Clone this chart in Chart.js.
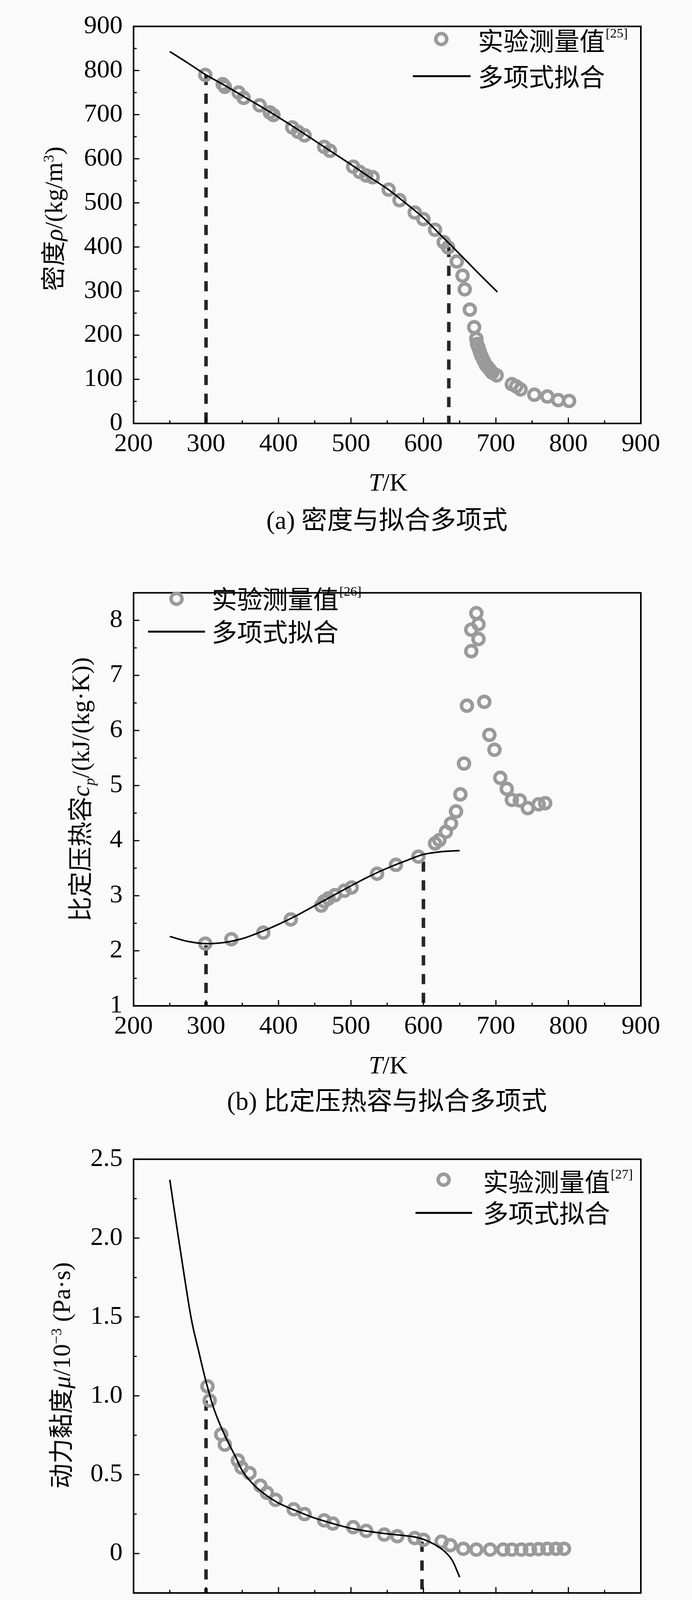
<!DOCTYPE html>
<html><head><meta charset="utf-8">
<script src="https://cdn.jsdelivr.net/npm/chart.js@4.4.1/dist/chart.umd.min.js"></script>
<style>
html,body{margin:0;padding:0;background:#fafafa;}
#page{position:relative;width:1772px;height:5882px;overflow:hidden;}
canvas{position:absolute;left:0;}
.t{position:absolute;white-space:nowrap;font-family:"Liberation Serif","Noto Sans CJK SC",serif;color:#000;line-height:1;}
.yt{transform:translate(-50%,-50%) rotate(-90deg);font-size:64px;}
.xt{transform:translate(-50%,-50%);font-size:64px;}
.cap{transform:translate(-50%,-50%);font-size:66px;}
sup,sub{font-size:0.6em;line-height:0;}
</style></head>
<body><div id="page">
<canvas id="ca" width="1772" height="1450" style="top:0px"></canvas>
<canvas id="cb" width="1772" height="1450" style="top:1450px"></canvas>
<canvas id="cc" width="1772" height="1450" style="top:2900px"></canvas>
<canvas id="cd" width="1772" height="1532" style="top:4350px"></canvas>

<div class="t yt" style="left:138px;top:560px">密度<i>ρ</i>/(kg/m<sup>3</sup>)</div>
<div class="t xt" style="left:994px;top:1235px"><i>T</i>/K</div>
<div class="t cap" style="left:991px;top:1332px">(a) 密度与拟合多项式</div>

<div class="t yt" style="left:207px;top:2021px">比定压热容<i>c<sub>p</sub></i>/(kJ/(kg·K))</div>
<div class="t xt" style="left:994px;top:2727px"><i>T</i>/K</div>
<div class="t cap" style="left:991px;top:2819px">(b) 比定压热容与拟合多项式</div>

<div class="t yt" style="left:158px;top:3521px">动力黏度<i>μ</i>/10<sup>−3</sup> (Pa·s)</div>
<div class="t xt" style="left:994px;top:4227px"><i>T</i>/K</div>
<div class="t cap" style="left:991px;top:4325px">(c) 动力黏度与拟合多项式</div>

<div class="t yt" style="left:115px;top:5040px">导热系数<i>λ</i>/(W(m·K))</div>
<div class="t xt" style="left:994px;top:5742px"><i>T</i>/K</div>
<div class="t cap" style="left:991px;top:5840px">(d) 导热系数与拟合多项式</div>
</div>
<script>
// ---------- data ----------
const seriesLabels = ['实验测量值', '多项式拟合'];
const refLabels = ['[25]', '[26]', '[27]', '[28]'];

// (a) density
const densityT   = [299,323,326,345,352,374,388,393,419,427,436,463,471,503,512,521,530,552,567,588,600,616,628,634,646,654,657,664,670,673,674,676,678,680,683,686,689,692,695,701,722,728,734,753,771,786,801];
const densityRho = [790,769,763,750,738,721,705,699,671,661,653,627,618,582,570,562,558,530,506,478,463,439,411,399,367,335,304,258,218,192,180,172,162,153,143,133,127,121,115,109,89,84,77,65,61,53,51];
const densityFitT   = [250,275,300,325,350,375,400,425,450,475,500,525,550,575,600,625,650,675,702];
const densityFitRho = [843,817,790,767,743,719,694,668,641,614,587,559,532,500,466,425,384,342,298];
const densityDashT   = [300,635];
const densityDashTop = [790,400];

// (b) specific heat
const cpT = [299,335,379,417,459,463,469,478,491,501,536,562,593,616,622,631,638,645,651,656,660,666,666,673,676,676,684,691,698,706,715,722,733,744,759,768];
const cpV = [2.13,2.21,2.33,2.57,2.82,2.90,2.95,3.01,3.09,3.15,3.40,3.56,3.71,3.95,4.01,4.16,4.31,4.53,4.84,5.40,6.45,7.44,7.83,8.13,7.93,7.66,6.52,5.92,5.65,5.14,4.94,4.74,4.73,4.59,4.66,4.68];
const cpFitT = [250,275,300,325,350,375,400,425,450,475,500,525,550,575,600,625,650];
const cpFitV = [2.26,2.17,2.13,2.15,2.22,2.34,2.48,2.64,2.82,3.00,3.18,3.35,3.50,3.63,3.75,3.80,3.82];
const cpDashT   = [300,600];
const cpDashTop = [2.10,3.62];

// (c) viscosity
const viscT = [302,305,321,326,344,349,360,375,384,396,421,436,463,475,503,521,546,564,588,600,625,637,655,673,692,710,722,735,747,759,771,783,794];
const viscV = [1.06,0.97,0.755,0.69,0.59,0.545,0.51,0.43,0.385,0.34,0.28,0.25,0.21,0.19,0.167,0.144,0.12,0.11,0.098,0.087,0.075,0.053,0.03,0.025,0.025,0.025,0.025,0.025,0.025,0.028,0.03,0.03,0.03];
const viscFitT = [250,260,270,280,290,300,310,320,330,340,350,365,380,400,425,450,475,500,525,550,575,590,600,610,620,630,640,650];
const viscFitV = [2.37,2.06,1.76,1.48,1.28,1.09,0.93,0.81,0.71,0.62,0.525,0.44,0.38,0.32,0.27,0.225,0.19,0.16,0.14,0.125,0.113,0.103,0.09,0.07,0.045,0.01,-0.045,-0.15];
const viscDashT   = [300,598];
const viscDashTop = [0.97,0.075];

// (d) thermal conductivity
const condT = [302,307,322,327,344,353,375,381,390,398,419,430,438,462,471,478,503,512,521,530,549,561,570,585,597,616,628,637,646,652,658,664,673,683,692,704,716,731,750,768,783,794];
const condV = [0.1322,0.1309,0.1285,0.1274,0.1248,0.1229,0.1206,0.119,0.1169,0.1148,0.110,0.1073,0.1058,0.1005,0.0984,0.0968,0.0915,0.0894,0.0873,0.0851,0.0804,0.0777,0.0756,0.0725,0.0703,0.0666,0.0645,0.0629,0.0603,0.0577,0.055,0.0529,0.0524,0.0534,0.054,0.055,0.0559,0.0571,0.0587,0.0603,0.0619,0.0633];
const condFitT = [230,250,275,300,325,350,375,400,425,450,475,500,525,550,575,600,625,650,675,700,728];
const condFitV = [0.1370,0.1361,0.1340,0.1311,0.1268,0.1225,0.1180,0.1130,0.1075,0.1018,0.0958,0.0900,0.0844,0.0789,0.0733,0.0677,0.0630,0.0590,0.0553,0.0528,0.0508];
const condDashT   = [300,598];
const condDashTop = [0.131,0.0677];

// ---------- helpers ----------
const zip = (xs, ys) => xs.map((x, i) => ({x, y: ys[i]}));
const SERIF = '"Liberation Serif", serif';

const frameLegendPlugin = {
  id: 'frameLegend',
  afterDatasetsDraw(chart) {
    const ctx = chart.ctx, a = chart.chartArea;
    ctx.save();
    ctx.strokeStyle = '#000';
    ctx.lineWidth = 3;
    const xs = chart.scales.x, ys = chart.scales.y;
    xs.ticks.forEach(t => {
      const px = xs.getPixelForValue(t.value);
      const len = (t.label !== '' && t.label != null) ? 15 : 8;
      ctx.beginPath(); ctx.moveTo(px, a.bottom); ctx.lineTo(px, a.bottom - len); ctx.stroke();
    });
    ys.ticks.forEach(t => {
      const py = ys.getPixelForValue(t.value);
      const len = (t.label !== '' && t.label != null) ? 15 : 8;
      ctx.beginPath(); ctx.moveTo(a.left, py); ctx.lineTo(a.left + len, py); ctx.stroke();
    });
    ctx.lineWidth = 4;
    ctx.strokeRect(a.left, a.top, a.right - a.left, a.bottom - a.top);
    ctx.restore();
  },
  afterDraw(chart) {
    const o = chart.options.plugins.frameLegend;
    if (!o) return;
    const ctx = chart.ctx;
    const pts = chart.data.datasets[1], fit = chart.data.datasets[0];
    ctx.save();
    ctx.beginPath(); ctx.arc(o.mx, o.my, pts.pointRadius, 0, Math.PI * 2);
    ctx.lineWidth = pts.pointBorderWidth; ctx.strokeStyle = pts.pointBorderColor; ctx.stroke();
    ctx.beginPath(); ctx.moveTo(o.lx1, o.ly); ctx.lineTo(o.lx2, o.ly);
    ctx.lineWidth = 5; ctx.strokeStyle = fit.borderColor; ctx.stroke();
    ctx.fillStyle = '#000'; ctx.textAlign = 'left'; ctx.textBaseline = 'middle';
    ctx.font = '65px "Noto Sans CJK SC"';
    ctx.fillText(pts.label, o.tx, o.ty1);
    const w = ctx.measureText(pts.label).width;
    ctx.font = '34px "Liberation Serif"'; ctx.textBaseline = 'top';
    ctx.fillText(o.ref, o.tx + w + 2, o.ty1 - 34);
    ctx.font = '65px "Noto Sans CJK SC"'; ctx.textBaseline = 'middle';
    ctx.fillText(fit.label, o.tx, o.ty2);
    ctx.restore();
  }
};

function makeChart(id, p) {
  const H = document.getElementById(id).height;
  const dashSets = p.dashT.map((x, i) => ({
    label: 'dash' + i,
    data: [{x, y: p.dashTop[i]}, {x, y: p.yMin}],
    showLine: true, pointRadius: 0, borderColor: '#262626', borderWidth: 9,
    borderDash: [26, 22], order: 2
  }));
  return new Chart(document.getElementById(id), {
    type: 'scatter',
    data: {
      datasets: [
        { label: seriesLabels[1], data: zip(p.fitT, p.fitV), showLine: true, pointRadius: 0,
          borderColor: '#000', borderWidth: 4, cubicInterpolationMode: 'monotone', order: 0 },
        { label: seriesLabels[0], data: zip(p.ptT, p.ptV), showLine: false, pointRadius: 14,
          pointBorderWidth: 9, pointBorderColor: '#9a9a9a', pointBackgroundColor: 'rgba(0,0,0,0)', order: 1 },
        ...dashSets
      ]
    },
    options: {
      responsive: false, animation: false, devicePixelRatio: 1, events: [],
      layout: { padding: { left: 0, right: 131, top: p.top, bottom: 0 } },
      plugins: { legend: { display: false }, tooltip: { enabled: false },
        frameLegend: Object.assign({ ref: p.ref }, p.legend) },
      scales: {
        x: { type: 'linear', min: 200, max: 900,
          grid: { display: false, drawTicks: false }, border: { display: false },
          ticks: { stepSize: 50, autoSkip: false, maxRotation: 0, minRotation: 0, padding: 14, color: '#000',
            font: { family: SERIF, size: 66 }, callback: v => (Math.round(v) % 100 === 0 ? String(Math.round(v)) : '') },
          afterFit: s => { s.height = H - p.bottom; } },
        y: { type: 'linear', min: p.yMin, max: p.yMax,
          grid: { display: false, drawTicks: false }, border: { display: false },
          ticks: { stepSize: p.yStep, autoSkip: false, includeBounds: false, padding: 28, color: '#000',
            font: { family: SERIF, size: 66 }, callback: p.yLabel },
          afterFit: s => { s.width = 342; } }
      }
    },
    plugins: [frameLegendPlugin]
  });
}

makeChart('ca', { ptT: densityT, ptV: densityRho, fitT: densityFitT, fitV: densityFitRho,
  dashT: densityDashT, dashTop: densityDashTop, yMin: 0, yMax: 900, yStep: 50,
  yLabel: v => (Math.round(v) % 100 === 0 ? String(Math.round(v)) : ''),
  top: 37, bottom: 1084, ref: refLabels[0],
  legend: { mx: 1130, my: 100, tx: 1224, ty1: 104, lx1: 1057, lx2: 1205, ly: 195, ty2: 196 } });

makeChart('cb', { ptT: cpT, ptV: cpV, fitT: cpFitT, fitV: cpFitV,
  dashT: cpDashT, dashTop: cpDashTop, yMin: 1, yMax: 8.5, yStep: 0.5,
  yLabel: v => (Math.abs(v - Math.round(v)) < 1e-6 ? String(Math.round(v)) : ''),
  top: 17, bottom: 1125, ref: refLabels[1],
  legend: { mx: 452, my: 83, tx: 542, ty1: 83, lx1: 379, lx2: 525, ly: 167, ty2: 167 } });

makeChart('cc', { ptT: viscT, ptV: viscV, fitT: viscFitT, fitV: viscFitV,
  dashT: viscDashT, dashTop: viscDashTop, yMin: -0.25, yMax: 2.5, yStep: 0.25,
  yLabel: v => { const k = Math.round(v * 4); if (k < 0 || k % 2 !== 0) return ''; return k === 0 ? '0' : (k / 4).toFixed(1); },
  top: 65, bottom: 1178, ref: refLabels[2],
  legend: { mx: 1136, my: 120, tx: 1237, ty1: 125, lx1: 1064, lx2: 1209, ly: 205, ty2: 205 } });

makeChart('cd', { ptT: condT, ptV: condV, fitT: condFitT, fitV: condFitV,
  dashT: condDashT, dashTop: condDashTop, yMin: 0.04, yMax: 0.16, yStep: 0.01,
  yLabel: v => { const k = Math.round(v * 100); return k % 2 === 0 ? (k / 100).toFixed(2) : ''; },
  top: 134, bottom: 1243, ref: refLabels[3],
  legend: { mx: 1130, my: 200, tx: 1226, ty1: 200, lx1: 1056, lx2: 1207, ly: 281, ty2: 278 } });
</script>
</body></html>
